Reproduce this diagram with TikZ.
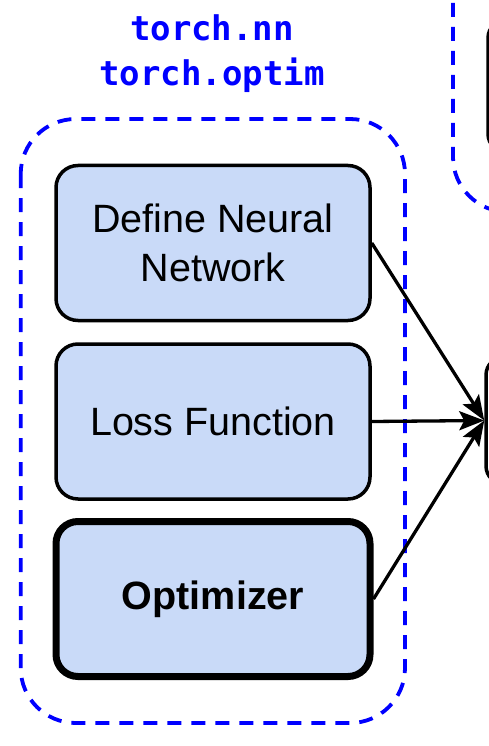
\documentclass[tikz,border=0pt]{standalone}
\usepackage{fontspec}
\setmainfont{Liberation Sans}
\newfontfamily\codefont{DejaVu Sans Mono}
\usetikzlibrary{arrows.meta}
\definecolor{boxfill}{HTML}{C9DAF8}
\definecolor{pureblue}{RGB}{0,0,255}
\begin{document}
\begin{tikzpicture}[x=1pt,y=-1pt,
  stepbox/.style={draw=black, line width=3.5pt, fill=boxfill, rounded corners=22pt,
    minimum width=314pt, minimum height=155pt, inner sep=0pt, align=center,
    font=\fontsize{39.5}{49}\selectfont},
  groupbox/.style={draw=pureblue, line width=3.8pt, dash pattern=on 14pt off 10pt, rounded corners=55pt},
  outerbox/.style={draw=black, line width=3.5pt, rounded corners=18pt, inner sep=0pt},
  flow/.style={draw=black, line width=3.3pt, -{Stealth[length=25pt,width=19pt,inset=5pt]}},
  titletext/.style={font=\codefont\bfseries\fontsize{34}{40}\selectfont, text=pureblue, anchor=base, inner sep=0pt}
]
\useasboundingbox (0,0) rectangle (489,746);
\clip (0,0) rectangle (489,746);

% group outlines
\draw[groupbox] (20.7,119) rectangle (405,723);
\draw[groupbox] (453,-100) rectangle (720,212);

% title
\node[titletext] (t1) at (212,41) {torch.nn};
\node[titletext] (t2) at (212,86) {torch.optim};

% boxes on the right (partly visible)
\node[outerbox, minimum width=120pt, minimum height=132pt] (topbox) at (548,86) {};
\node[outerbox, minimum width=120pt, minimum height=127pt] (target) at (546,420.5) {};

% step boxes
\node[stepbox] (nn) at (213,243) {Define Neural\\Network};
\node[stepbox] (loss) at (213,421.5) {Loss Function};
\node[stepbox, line width=7pt, font=\fontsize{39.5}{49}\selectfont\bfseries] (opt) at (213,599) {Optimizer};

% arrows
\draw[flow] (nn.east) -- (target.west);
\draw[flow] (loss.east) -- (target.west);
\draw[flow] (opt.east) -- (target.west);
\end{tikzpicture}
\end{document}
